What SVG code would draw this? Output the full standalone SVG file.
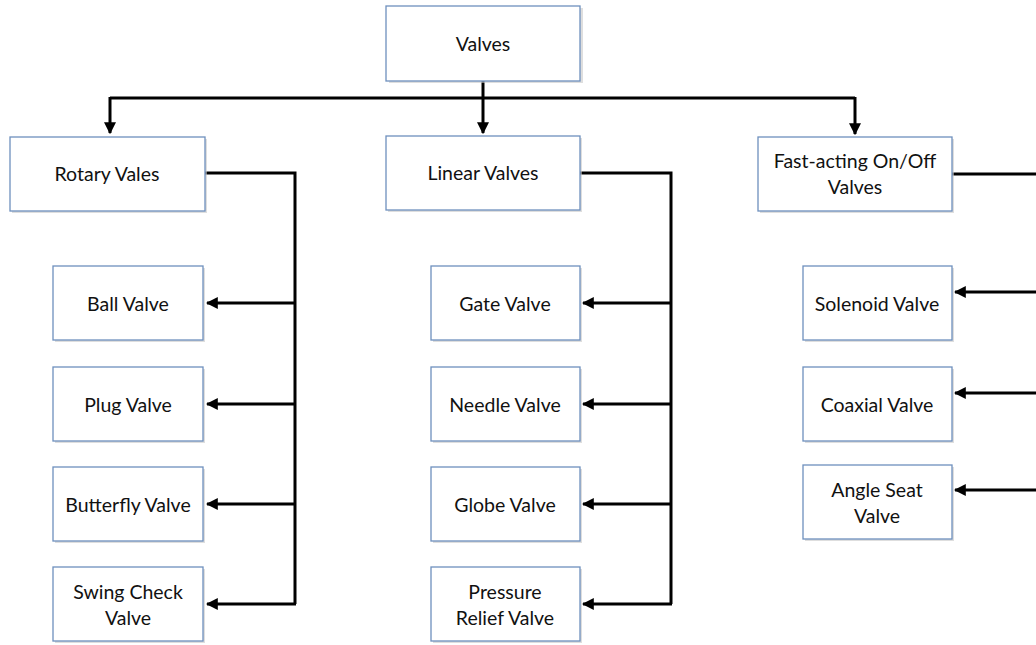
<svg xmlns="http://www.w3.org/2000/svg" width="1036" height="645" viewBox="0 0 1036 645">
<style>
.box{fill:#fff;stroke:#6e90bd;stroke-width:1.3}
.sh{fill:#c8c8c8;opacity:.6}
.t{font-family:Lato,"Open Sans","Liberation Sans",sans-serif;font-size:19.5px;fill:#111;text-anchor:middle}
.ln{fill:none;stroke:#000;stroke-width:3}
</style>
<defs>
<marker id="ah" viewBox="0 0 10 10" refX="9" refY="5" markerWidth="4" markerHeight="4" orient="auto" markerUnits="strokeWidth">
<path d="M0,0 L10,5 L0,10 z" fill="#000"/>
</marker>
</defs>
<g id="connectors">
<path class="ln" d="M483,81 V133" marker-end="url(#ah)"/>
<path class="ln" d="M110,98 H855"/>
<path class="ln" d="M110,97 V133" marker-end="url(#ah)"/>
<path class="ln" d="M855,97 V134" marker-end="url(#ah)"/>
<path class="ln" d="M205,173 H295 V604"/>
<path class="ln" d="M295,303 H207" marker-end="url(#ah)"/>
<path class="ln" d="M295,404 H207" marker-end="url(#ah)"/>
<path class="ln" d="M295,504 H207" marker-end="url(#ah)"/>
<path class="ln" d="M296,604 H207" marker-end="url(#ah)"/>
<path class="ln" d="M580,173 H671 V604"/>
<path class="ln" d="M671,303 H583" marker-end="url(#ah)"/>
<path class="ln" d="M671,404 H583" marker-end="url(#ah)"/>
<path class="ln" d="M671,504 H583" marker-end="url(#ah)"/>
<path class="ln" d="M672,604 H583" marker-end="url(#ah)"/>
<path class="ln" d="M952,174 H1036"/>
<path class="ln" d="M1036,292 H955" marker-end="url(#ah)"/>
<path class="ln" d="M1036,393 H955" marker-end="url(#ah)"/>
<path class="ln" d="M1036,490 H955" marker-end="url(#ah)"/>
</g>
<g id="n-valves"><rect class="sh" x="389" y="8" width="194" height="75"/><rect class="box" x="386" y="6" width="194" height="75"/><text class="t" x="483" y="51">Valves</text></g>
<g id="n-rotary"><rect class="sh" x="12" y="139" width="195" height="74"/><rect class="box" x="10" y="137" width="195" height="74"/><text class="t" x="107" y="181">Rotary Vales</text></g>
<g id="n-linear"><rect class="sh" x="388" y="138" width="194" height="74"/><rect class="box" x="386" y="136" width="194" height="74"/><text class="t" x="483" y="180">Linear Valves</text></g>
<g id="n-fast"><rect class="sh" x="760" y="139" width="194" height="74"/><rect class="box" x="758" y="137" width="194" height="74"/><text class="t" x="855" y="168">Fast-acting On/Off</text><text class="t" x="855" y="194">Valves</text></g>
<g id="n-ball"><rect class="sh" x="55" y="268" width="150" height="74"/><rect class="box" x="53" y="266" width="150" height="74"/><text class="t" x="128" y="311">Ball Valve</text></g>
<g id="n-plug"><rect class="sh" x="55" y="369" width="150" height="74"/><rect class="box" x="53" y="367" width="150" height="74"/><text class="t" x="128" y="412">Plug Valve</text></g>
<g id="n-butterfly"><rect class="sh" x="55" y="469" width="150" height="74"/><rect class="box" x="53" y="467" width="150" height="74"/><text class="t" x="128" y="512">Butterfly Valve</text></g>
<g id="n-swing"><rect class="sh" x="55" y="569" width="150" height="74"/><rect class="box" x="53" y="567" width="150" height="74"/><text class="t" x="128" y="599">Swing Check</text><text class="t" x="128" y="625">Valve</text></g>
<g id="n-gate"><rect class="sh" x="433" y="268" width="149" height="74"/><rect class="box" x="431" y="266" width="149" height="74"/><text class="t" x="505" y="311">Gate Valve</text></g>
<g id="n-needle"><rect class="sh" x="433" y="369" width="149" height="74"/><rect class="box" x="431" y="367" width="149" height="74"/><text class="t" x="505" y="412">Needle Valve</text></g>
<g id="n-globe"><rect class="sh" x="433" y="469" width="149" height="74"/><rect class="box" x="431" y="467" width="149" height="74"/><text class="t" x="505" y="512">Globe Valve</text></g>
<g id="n-pressure"><rect class="sh" x="433" y="569" width="149" height="74"/><rect class="box" x="431" y="567" width="149" height="74"/><text class="t" x="505" y="599">Pressure</text><text class="t" x="505" y="625">Relief Valve</text></g>
<g id="n-solenoid"><rect class="sh" x="805" y="268" width="149" height="74"/><rect class="box" x="803" y="266" width="149" height="74"/><text class="t" x="877" y="311">Solenoid Valve</text></g>
<g id="n-coaxial"><rect class="sh" x="805" y="369" width="149" height="74"/><rect class="box" x="803" y="367" width="149" height="74"/><text class="t" x="877" y="412">Coaxial Valve</text></g>
<g id="n-angle"><rect class="sh" x="805" y="467" width="149" height="74"/><rect class="box" x="803" y="465" width="149" height="74"/><text class="t" x="877" y="497">Angle Seat</text><text class="t" x="877" y="523">Valve</text></g>
</svg>
